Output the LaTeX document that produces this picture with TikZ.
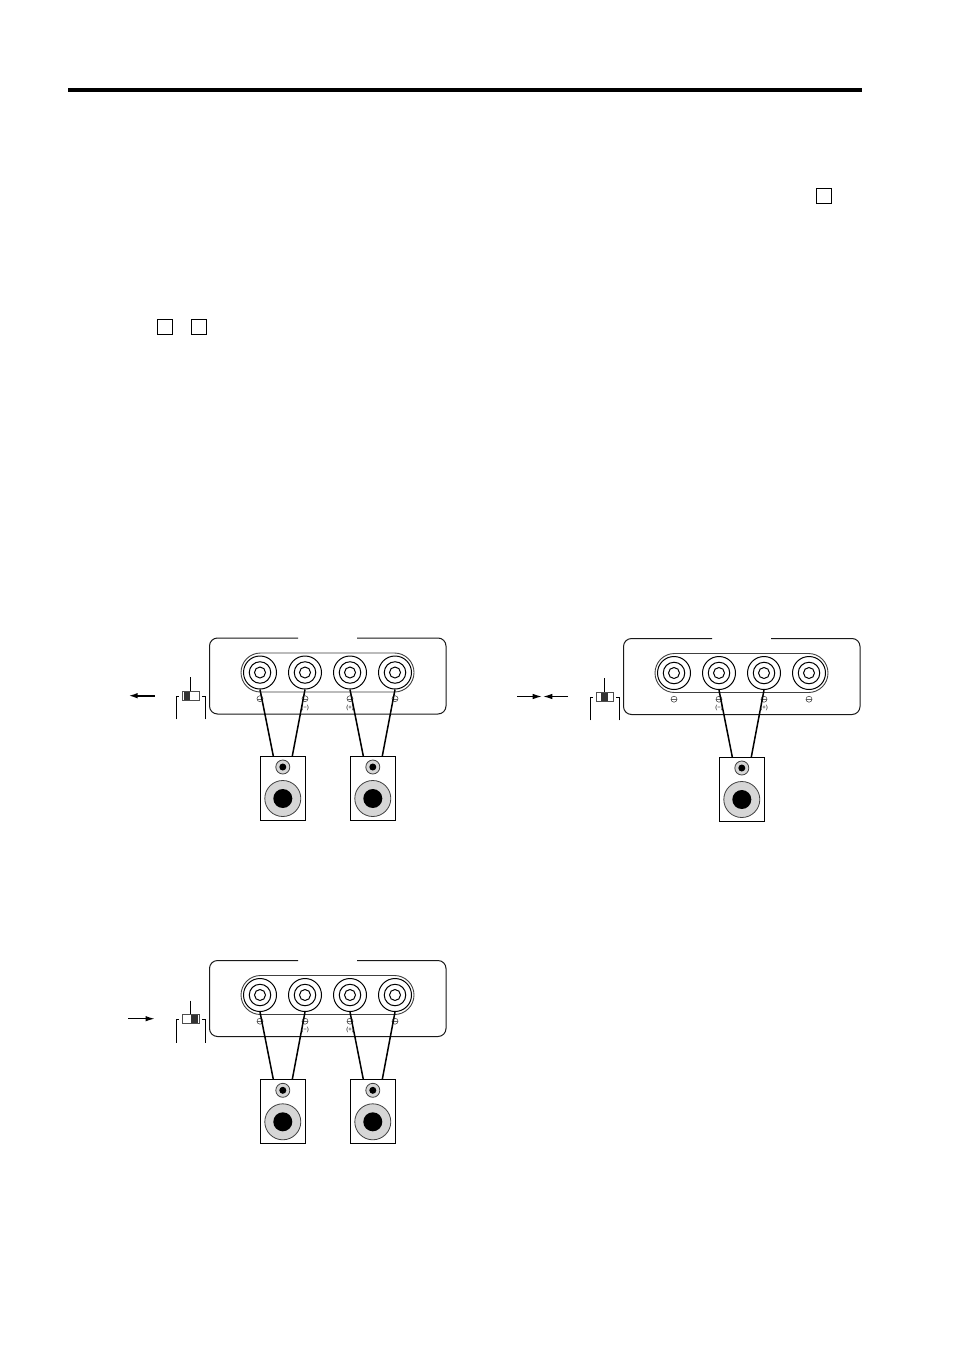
\documentclass[tikz,border=0pt]{standalone}
\usepackage{fontspec}
\setmainfont{Liberation Sans}
\usetikzlibrary{arrows.meta}
\definecolor{conegray}{gray}{0.84}
\tikzset{
  ring/.style={circle,draw=black,line width=1pt,fill=white,inner sep=0pt,minimum size=#1},
  cone/.style={circle,draw=black!75,line width=0.8pt,fill=conegray,inner sep=0pt,minimum size=#1},
  hole/.style={circle,fill=black,inner sep=0pt,minimum size=#1},
  minor/.style={circle,draw=black!75,line width=0.55pt,fill=white,inner sep=0pt,minimum size=6pt,
    path picture={\draw[black!60,line width=0.3pt] (path picture bounding box.west) -- (path picture bounding box.east);}},
  tinylabel/.style={inner sep=0pt,font=\fontsize{6}{6}\selectfont,text=black},
  cabinet/.style={rectangle,draw=black,line width=1pt,fill=white,inner sep=0pt,minimum width=45pt,minimum height=64pt},
  wire/.style={line width=1.5pt,black},
  panelline/.style={line width=1pt,black!90,rounded corners=8pt},
  strip/.style={rectangle,draw=black!75,line width=0.9pt,rounded corners=19.5pt,inner sep=0pt,minimum width=173pt,minimum height=39pt},
  bracketline/.style={line width=0.9pt,black},
  switchbody/.style={rectangle,draw=black!70,line width=0.9pt,fill=white,inner sep=0pt,minimum width=17pt,minimum height=9pt},
  knob/.style={rectangle,fill=black!80,inner sep=0pt,minimum width=6.5pt,minimum height=8pt},
  checkbox/.style={rectangle,draw=black,line width=0.9pt,fill=white,inner sep=0pt,minimum size=15pt},
  toprule/.style={rectangle,fill=black,inner sep=0pt,minimum width=794.5pt,minimum height=3.8pt},
  pointer/.style={line width=#1,black,-{Latex[length=9pt,width=5.5pt]}}
}
% #1 prefix, #2 x offset, #3 y offset
\newcommand{\terminalpanel}[3]{%
  \begin{scope}[shift={(#2,#3)}]
    \draw[panelline] (298,638) -| (209.5,714) -| (446,638) -- (357,638);
    \node[strip] (#1strip) at (327.5,672.5) {};
    \foreach \n/\xx in {a/260,b/305,c/350,d/395}{
      \node[ring=33pt] (#1\n) at (\xx,672.5) {};
      \node[ring=21.5pt] (#1\n m) at (\xx,672.5) {};
      \node[ring=11pt] (#1\n i) at (\xx,672.5) {};
      \node[minor] (#1\n s) at (\xx,698.7) {};
    }
    \node[tinylabel] (#1lm) at (305,707.5) {(−)};
    \node[tinylabel] (#1lp) at (350,707.5) {(+)};
  \end{scope}}
% #1 name, #2 centre x, #3 top y
\newcommand{\loudspeaker}[3]{%
  \begin{scope}[shift={(#2,#3)}]
    \node[cabinet] (#1) at (0,32) {};
    \node[cone=14pt] (#1tw) at (0,11) {};
    \node[hole=7pt] (#1td) at (0,11) {};
    \node[cone=36pt] (#1wf) at (0,42.5) {};
    \node[hole=19pt] (#1wd) at (0,42.5) {};
    \coordinate (#1L) at (-9.5,0);
    \coordinate (#1R) at (9.5,0);
  \end{scope}}
% #1 prefix, #2 left edge x, #3 top y, #4 knob offset
\newcommand{\slideswitch}[4]{%
  \begin{scope}[shift={(#2,#3)}]
    \node[switchbody] (#1sw) at (8.4,4.5) {};
    \node[knob] (#1kn) at (#4,4.5) {};
    \coordinate (#1top) at (8.4,-14);
    \draw[bracketline] (#1top) -- (#1sw.north);
    \coordinate (#1bl) at (-5.8,28);
    \coordinate (#1br) at (23.2,28);
    \draw[bracketline] (#1bl) |- (-3,5);
    \draw[bracketline] (#1br) |- (19.5,5);
  \end{scope}}
\begin{document}
\begin{tikzpicture}[x=1pt,y=-1pt]
  \path[fill=white,use as bounding box] (0,0) rectangle (954,1351);
  \node[toprule] (headrule) at (465.2,90) {};
  \node[checkbox] (boxa) at (823.5,195.5) {};
  \node[checkbox] (boxb) at (164.5,326.5) {};
  \node[checkbox] (boxc) at (199,326.5) {};

  % upper left
  \terminalpanel{p}{0}{0}
  \loudspeaker{sa}{282.8}{756}
  \loudspeaker{sb}{372.8}{756}
  \draw[wire] (pa.south) -- (saL);
  \draw[wire] (pb.south) -- (saR);
  \draw[wire] (pc.south) -- (sbL);
  \draw[wire] (pd.south) -- (sbR);
  \slideswitch{p}{182.3}{691.3}{4.8}
  \coordinate (parrS) at (154.5,695.7);
  \coordinate (parrE) at (128.5,695.7);
  \draw[pointer=1.7pt] (parrS) -- (parrE);

  % upper right
  \terminalpanel{q}{414}{0.5}
  \loudspeaker{sc}{741.8}{757}
  \draw[wire] (qb.south) -- (scL);
  \draw[wire] (qc.south) -- (scR);
  \slideswitch{q}{596.3}{692.3}{8.4}
  \coordinate (qarrA) at (517,696.5);
  \coordinate (qarrB) at (541.7,696.5);
  \coordinate (qarrC) at (568,696.5);
  \coordinate (qarrD) at (543.3,696.5);
  \draw[pointer=1pt] (qarrA) -- (qarrB);
  \draw[pointer=1pt] (qarrC) -- (qarrD);

  % lower left
  \terminalpanel{r}{0}{322.5}
  \loudspeaker{sd}{282.8}{1079.3}
  \loudspeaker{se}{372.8}{1079.3}
  \draw[wire] (ra.south) -- (sdL);
  \draw[wire] (rb.south) -- (sdR);
  \draw[wire] (rc.south) -- (seL);
  \draw[wire] (rd.south) -- (seR);
  \slideswitch{r}{182.3}{1014.7}{12}
  \coordinate (rarrS) at (128,1018.7);
  \coordinate (rarrE) at (154.5,1018.7);
  \draw[pointer=1pt] (rarrS) -- (rarrE);
\end{tikzpicture}
\end{document}
